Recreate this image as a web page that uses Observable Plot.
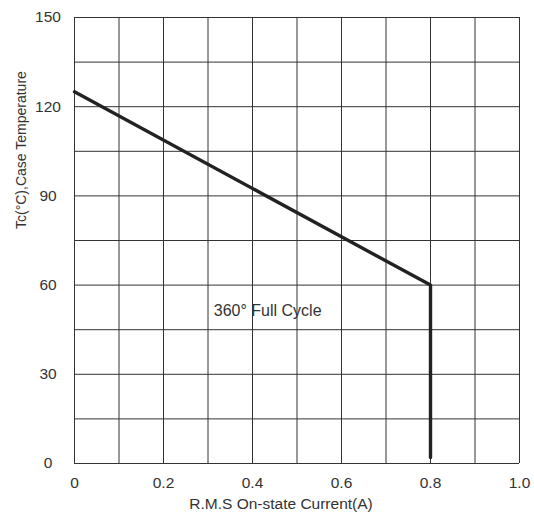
<!DOCTYPE html>
<html>
<head>
<meta charset="utf-8">
<script src="https://cdn.jsdelivr.net/npm/d3@7"></script>
<script src="https://cdn.jsdelivr.net/npm/@observablehq/plot@0.6"></script>
<style>
  html, body { margin: 0; padding: 0; background: #fff; }
  #chart svg { display: block; }
</style>
</head>
<body>
<div id="chart"></div>
<script>
// Curve: R.M.S on-state current (A) vs case temperature (°C)
const currentA = [0, 0.8, 0.8];
const caseTempC = [125, 60, 2];

// Axes
const xTicks = [0, 0.2, 0.4, 0.6, 0.8, 1.0];
const xTickLabels = ["0", "0.2", "0.4", "0.6", "0.8", "1.0"];
const yTicks = [0, 30, 60, 90, 120, 150];
const xGrid = [0, 0.1, 0.2, 0.3, 0.4, 0.5, 0.6, 0.7, 0.8, 0.9, 1.0];
const yGrid = [0, 15, 30, 45, 60, 75, 90, 105, 120, 135, 150];

// Annotation
const noteText = ["360° Full Cycle"];
const noteX = [0.313];
const noteY = [49.7];

const xLabel = "R.M.S On-state Current(A)";
const yLabel = "Tc(°C),Case Temperature";

const curve = currentA.map((x, i) => ({x, y: caseTempC[i]}));
const note = noteText.map((t, i) => ({t, x: noteX[i], y: noteY[i]}));

const font = "'Liberation Sans', Arial, sans-serif";
const ink = "#333";

const chart = Plot.plot({
  width: 534,
  height: 516,
  marginLeft: 74,
  marginRight: 15,
  marginTop: 17,
  marginBottom: 53,
  style: {fontFamily: font, background: "#fff", color: ink},
  x: {domain: [0, 1], axis: null},
  y: {domain: [0, 150], axis: null},
  marks: [
    Plot.ruleX(xGrid, {stroke: "#333", strokeWidth: 1}),
    Plot.ruleY(yGrid, {stroke: "#333", strokeWidth: 1}),
    Plot.line(curve, {x: "x", y: "y", stroke: "#222", strokeWidth: 3.4, strokeLinejoin: "miter"}),
    Plot.axisX({ticks: xTicks, tickFormat: (d) => xTickLabels[xTicks.indexOf(d)], tickSize: 0, tickPadding: 13.5, fontSize: 15.5, fill: ink, label: null}),
    Plot.axisY({ticks: yTicks, tickSize: 0, tickPadding: 26.5, textAnchor: "middle", fontSize: 15.5, fill: ink, label: null}),
    Plot.text(note, {x: "x", y: "y", text: "t", textAnchor: "start", lineAnchor: "bottom", fontSize: 16, fill: ink}),
    Plot.text([xLabel], {frameAnchor: "bottom", text: d => d, dx: -16, dy: 45, lineAnchor: "bottom", fontSize: 15.5, fill: ink}),
    Plot.text([yLabel], {frameAnchor: "left", text: d => d, rotate: -90, dx: -49, dy: -11.5, lineAnchor: "bottom", fontSize: 14, fill: ink})
  ]
});
document.getElementById("chart").appendChild(chart);
</script>
</body>
</html>
